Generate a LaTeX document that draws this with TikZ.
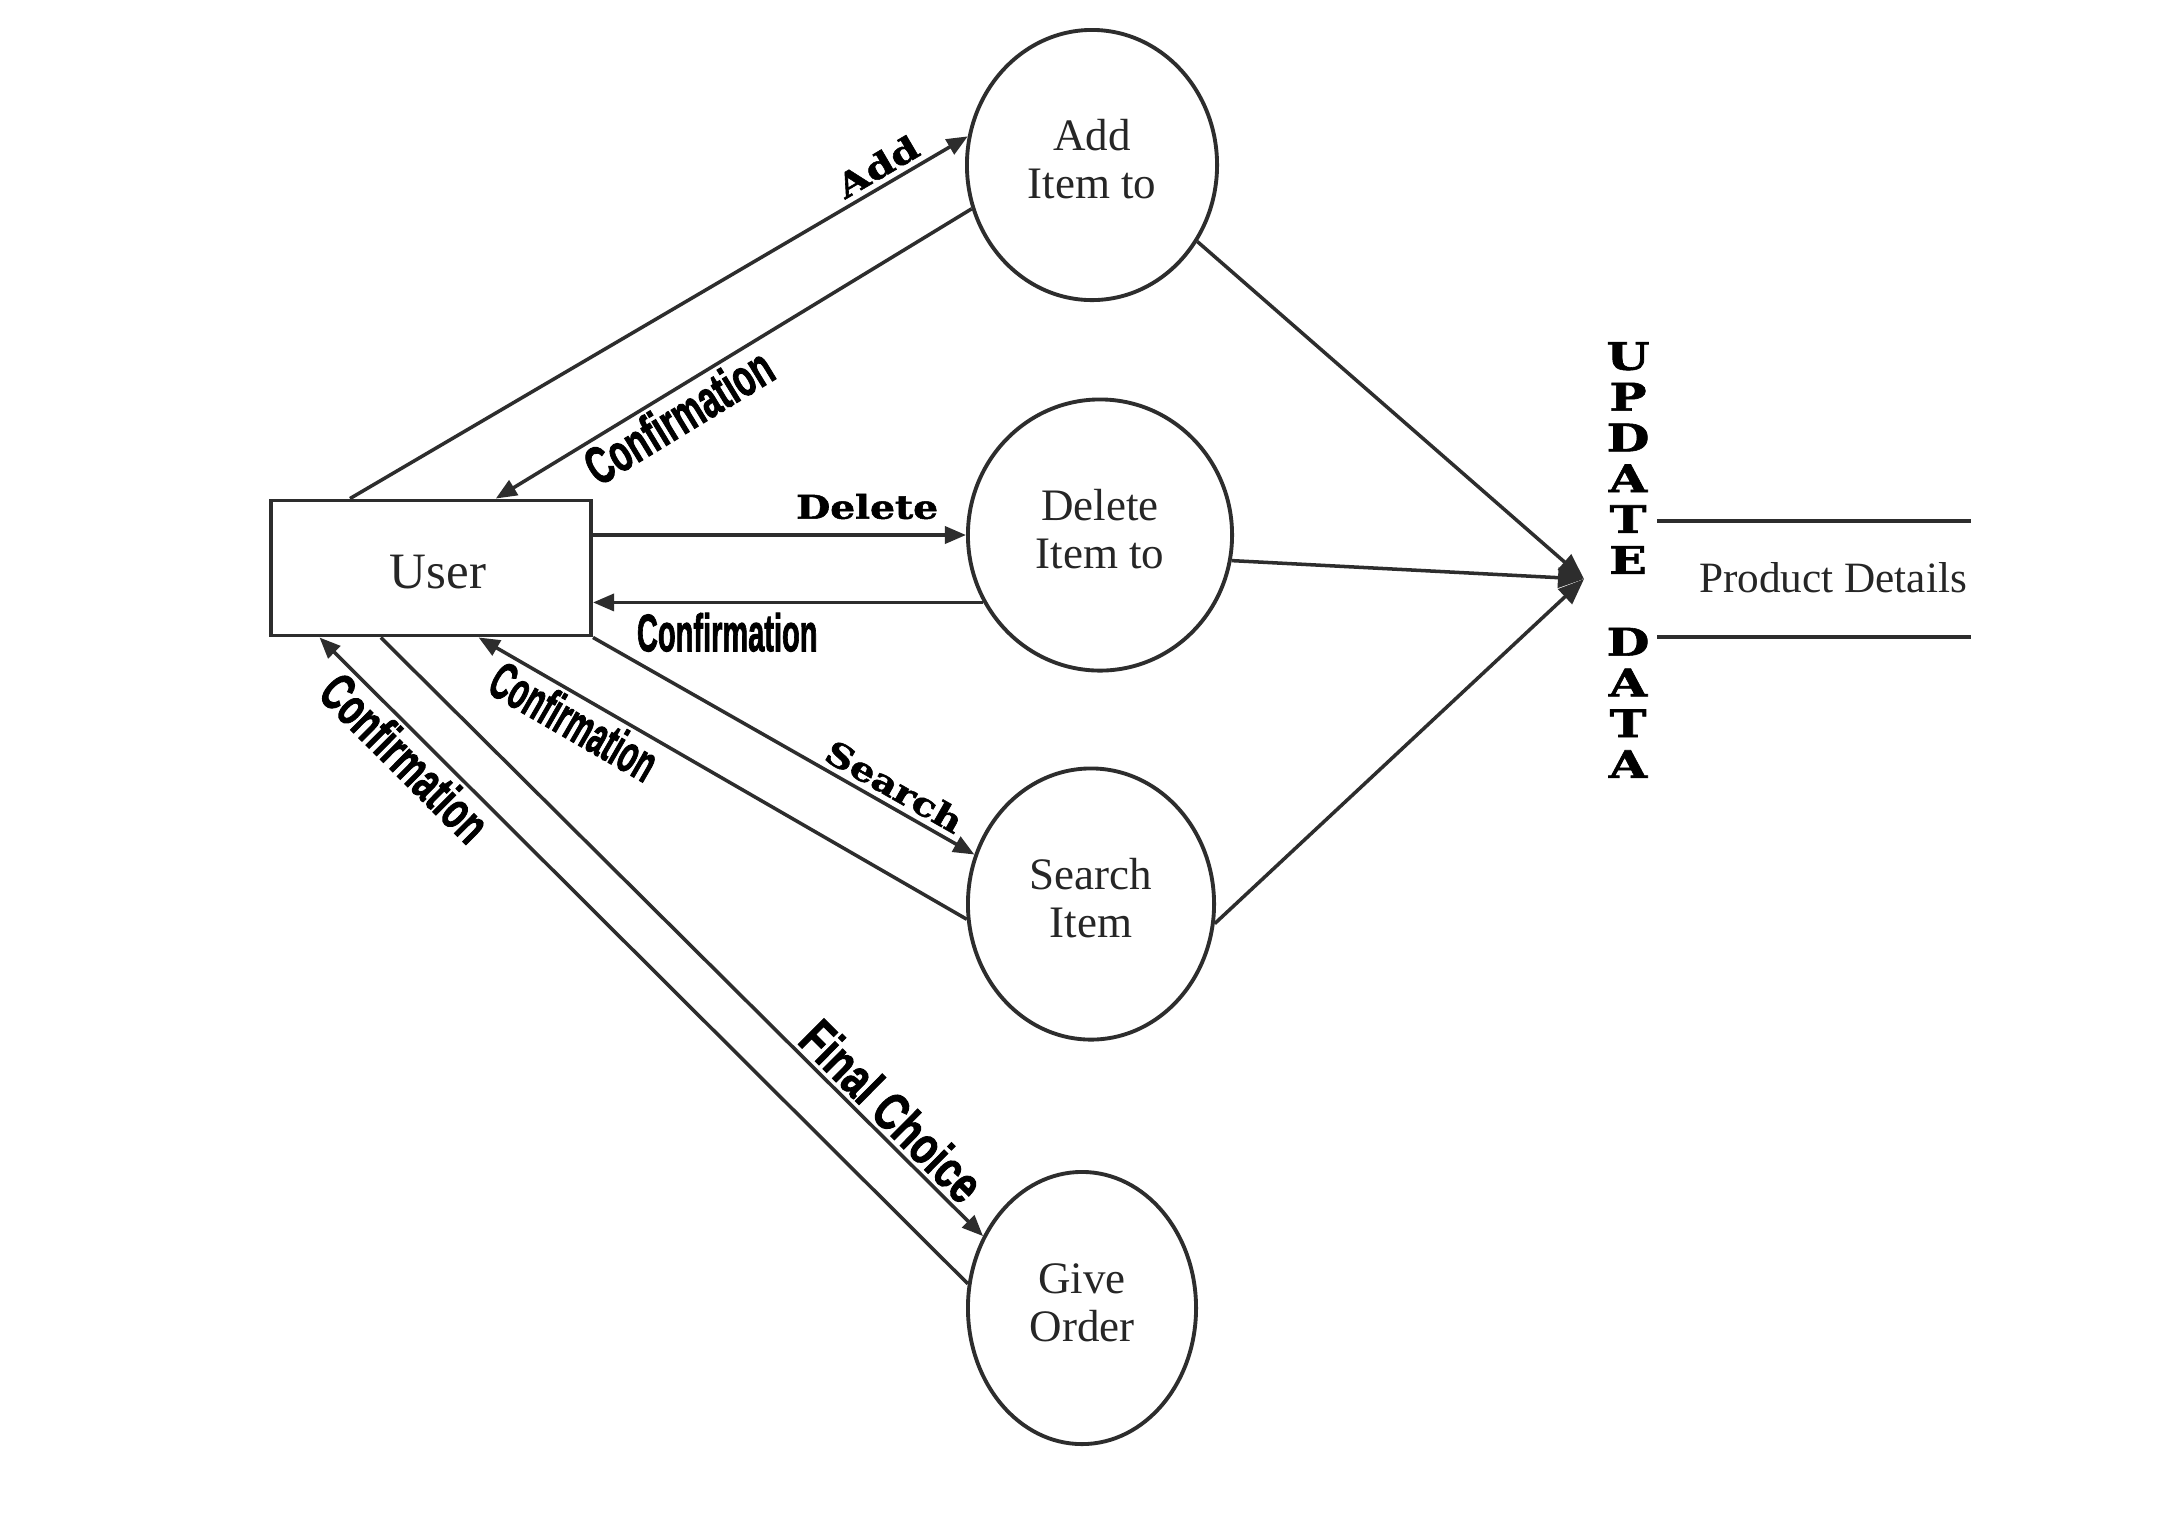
\documentclass[tikz,border=0pt]{standalone}
\usepackage{fontspec}
\usepackage{graphicx}
\setmainfont{Liberation Serif}
\newfontfamily\labsans[FakeBold=2]{Liberation Sans Bold}
\newfontfamily\labserif[FakeBold=1.5]{DejaVu Serif Bold}
\usetikzlibrary{shapes.geometric,arrows.meta,calc}
\definecolor{ln}{RGB}{45,45,45}
\newcommand\sq[2]{\scalebox{#1}[1]{#2}}
\tikzset{
  proc/.style={ellipse, draw=ln, line width=1.1pt, inner sep=0pt, align=center,
    text=black!85, font=\fontsize{12.8}{13.6}\selectfont},
  flow/.style={draw=ln, line width=1pt, -{Triangle[length=0.21cm,width=0.17cm]}},
  jflow/.style={draw=ln, line width=1pt, -{Triangle[length=0.26cm,width=0.2cm]}},
  conf/.style={font=\labsans\fontsize{15}{15}\selectfont, inner sep=1pt, sloped},
  heavy/.style={font=\labserif\fontsize{9.3}{9.3}\selectfont, inner sep=1.5pt, sloped},
}
\begin{document}
\begin{tikzpicture}[x=0.01cm,y=-0.01cm]
\useasboundingbox[fill=white] (0,0) rectangle (2160,1532);

% entity
\node[draw=ln, line width=1.1pt, minimum width=3.2cm, minimum height=1.35cm,
      text=black!85, font=\fontsize{14.5}{15}\selectfont] (user) at (431,568)
      {\hspace{0.14cm}\raisebox{-0.2cm}[0pt][0pt]{User}};

% processes
\node[proc, minimum width=2.5cm,  minimum height=2.7cm]  (add)  at (1092,165)  {\raisebox{0.06cm}{\begin{tabular}{@{}c@{}}Add\\Item to\end{tabular}}};
\node[proc, minimum width=2.64cm, minimum height=2.71cm] (del)  at (1100,535)  {\raisebox{0.06cm}{\begin{tabular}{@{}c@{}}Delete\\Item to\end{tabular}}};
\node[proc, minimum width=2.46cm, minimum height=2.71cm] (srch) at (1091,904)  {\raisebox{0.04cm}{\begin{tabular}{@{}c@{}}Search\\Item\end{tabular}}};
\node[proc, minimum width=2.28cm, minimum height=2.72cm] (give) at (1082,1308) {\raisebox{0.04cm}{\begin{tabular}{@{}c@{}}Give\\Order\end{tabular}}};

% data store
\node[minimum width=3.12cm, minimum height=1.14cm, inner sep=0pt, text=black!85,
      font=\fontsize{12.3}{13}\selectfont] (pd) at (1814,579) {\hspace{0.38cm}\raisebox{0.04cm}{Product Details}};
\draw[ln, line width=1.1pt] (pd.north west) -- (pd.north east) (pd.south west) -- (pd.south east);

% update data label
\node[font=\labserif\fontsize{10.8}{11.6}\selectfont, align=center, inner sep=0pt] (upd) at (1628,560)
  {\sq{1.3}{U}\\\sq{1.3}{P}\\\sq{1.3}{D}\\\sq{1.3}{A}\\\sq{1.3}{T}\\\sq{1.3}{E}\\[0.41cm]\sq{1.3}{D}\\\sq{1.3}{A}\\\sq{1.3}{T}\\\sq{1.3}{A}};

% junction
\coordinate (J) at (1584,579);
\draw[jflow] (add.-36) -- (J);
\draw[jflow] (del.-11) -- (J);
\draw[jflow] (srch.-9) -- (J);

% flows
\draw[flow] ($(user.north west)!0.25!(user.north east)$) -- node[heavy, pos=0.87, above]{\sq{1.25}{Add}} (add.167);
\draw[flow] (add.200) -- node[conf, pos=0.643, below]{\sq{0.64}{Confirmation}} ($(user.north west)!0.70!(user.north east)$);
\draw[flow] (user.east |- del.west) -- node[heavy, pos=0.735, above=2.5pt]{\sq{1.2}{Delete}} (del.west);
\draw[flow] (del.210) -- node[conf, pos=0.656, below=1.5pt]{\sq{0.55}{Confirmation}} (user.east |- del.210);
\draw[flow] (user.south east) -- node[heavy, pos=0.765, above]{\sq{1.2}{Search}} (srch.157);
\draw[flow] (srch.187) -- node[conf, pos=0.779, below]{\sq{0.56}{Confirmation}} ($(user.south west)!0.647!(user.south east)$);
\draw[flow] ($(user.south west)!0.345!(user.south east)$) -- node[conf, pos=0.82, above]{\sq{0.74}{Final Choice}} (give.144);
\draw[flow] (give.168) -- node[conf, pos=0.841, below]{\sq{0.65}{Confirmation}} ($(user.south west)!0.156!(user.south east)$);
\end{tikzpicture}
\end{document}
